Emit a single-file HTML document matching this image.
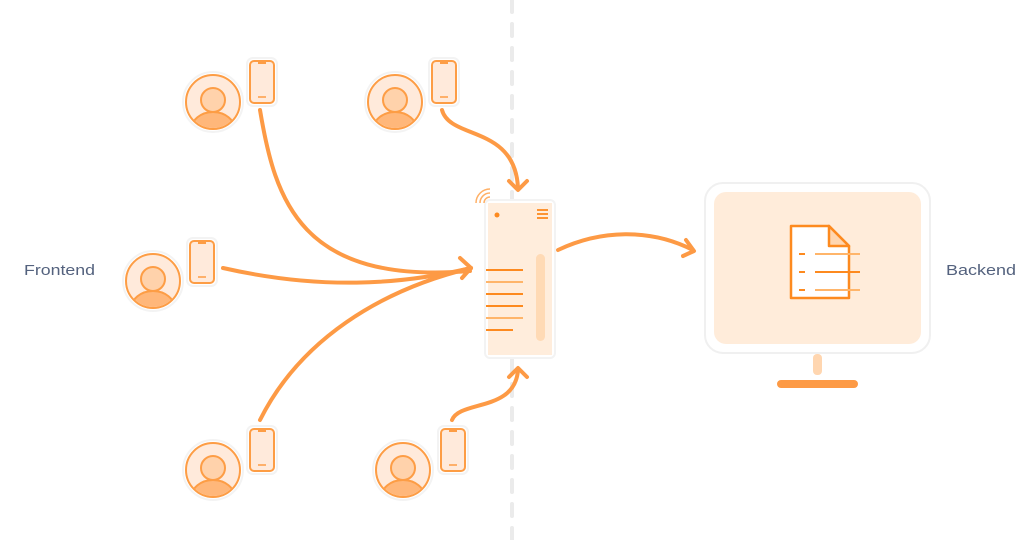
<!DOCTYPE html>
<html><head><style>
html,body{margin:0;padding:0;background:#fff;width:1024px;height:540px;overflow:hidden}
svg{display:block}
text{font-family:"Liberation Sans",sans-serif}
</style></head><body>
<svg width="1024" height="540" viewBox="0 0 1024 540" xmlns="http://www.w3.org/2000/svg">
<defs>
<clipPath id="uc"><circle cx="0" cy="0" r="26"/></clipPath>
<g id="user">
<circle cx="0" cy="0" r="30" fill="#fff" stroke="#f3f3f3" stroke-width="2"/>
<circle cx="0" cy="0" r="27" fill="#ffeadb" stroke="#fd9d45" stroke-width="2"/>
<g clip-path="url(#uc)">
<ellipse cx="0" cy="28" rx="22" ry="18" fill="#ffb77a" stroke="#fd9d45" stroke-width="2"/>
</g>
<circle cx="0" cy="-2" r="12" fill="#ffd2ab" stroke="#fd9d45" stroke-width="2"/>
</g>
<g id="phone">
<rect x="-2" y="-2" width="30" height="48" rx="6" fill="#fff" stroke="#f3f3f3" stroke-width="2"/>
<rect x="1" y="1" width="24" height="42" rx="4" fill="#ffeadb" stroke="#fd9d45" stroke-width="2"/>
<rect x="9" y="1" width="8" height="3" fill="#fd9d45"/>
<line x1="9" y1="37" x2="17" y2="37" stroke="#fd9d45" stroke-width="1.5"/>
</g>
</defs>

<line x1="512" y1="0" x2="512" y2="540" stroke="#ebebeb" stroke-width="4" stroke-dasharray="12 12" stroke-linecap="round"/>

<use href="#user" x="213" y="102"/><use href="#phone" x="249" y="60"/>
<use href="#user" x="395" y="102"/><use href="#phone" x="431" y="60"/>
<use href="#user" x="153" y="281"/><use href="#phone" x="189" y="240"/>
<use href="#user" x="213" y="470"/><use href="#phone" x="249" y="428"/>
<use href="#user" x="403" y="470"/><use href="#phone" x="440" y="428"/>

<g fill="none" stroke="#fd9a45" stroke-width="4" stroke-linecap="round" stroke-linejoin="round">
<path d="M260,110 C275,200 300,285 470,271"/>
<path d="M223,268 C320,290 400,285 471,268"/>
<path d="M260,420 C300,340 380,290 471,268"/>
<path d="M460,258 L471,268 L462,278"/>
<path d="M442,110 C450,140 515,125 518,188"/>
<path d="M509,181 L518,190 L527,181"/>
<path d="M452,420 C460,400 515,412 518,370"/>
<path d="M509,377 L518,368 L527,377"/>
<path d="M558,250 C600,230 650,228 693,250"/>
<path d="M686,240 L694,251 L683,256"/>
</g>

<!-- server device -->
<rect x="485" y="200" width="70" height="158" rx="5" fill="#fff" stroke="#f3f3f3" stroke-width="2"/>
<rect x="488" y="203" width="64" height="152" fill="#ffeddc"/>
<rect x="536" y="254" width="9" height="87" rx="4.5" fill="#ffdab5"/>
<circle cx="497" cy="215" r="2.5" fill="#fd8a1f"/>
<g stroke="#fd8a1f" stroke-width="1.8"><line x1="537" y1="210" x2="548" y2="210"/><line x1="537" y1="214" x2="548" y2="214"/><line x1="537" y1="218" x2="548" y2="218"/></g>
<g stroke-width="2">
<line x1="486" y1="270" x2="523" y2="270" stroke="#fd8a1f"/>
<line x1="486" y1="282" x2="523" y2="282" stroke="#ffb56a"/>
<line x1="486" y1="294" x2="523" y2="294" stroke="#fd8a1f"/>
<line x1="486" y1="306" x2="523" y2="306" stroke="#fd8a1f"/>
<line x1="486" y1="318" x2="523" y2="318" stroke="#ffb56a"/>
<line x1="486" y1="330" x2="513" y2="330" stroke="#fd8a1f"/>
</g>
<g fill="none" stroke="#ffb066" stroke-width="1.5">
<path d="M476,203 A14,14 0 0 1 490,189"/>
<path d="M480,203 A10,10 0 0 1 490,193"/>
<path d="M484,203 A6,6 0 0 1 490,197"/>
</g>

<!-- monitor -->
<rect x="705" y="183" width="225" height="170" rx="18" fill="#fff" stroke="#f0f0f0" stroke-width="2"/>
<rect x="714" y="192" width="207" height="152" rx="12" fill="#ffecda"/>
<rect x="813" y="354" width="9" height="21" rx="4" fill="#ffd6b0"/>
<rect x="777" y="380" width="81" height="8" rx="4" fill="#fd9a45"/>
<path d="M791,226 L829,226 L849,246 L849,298 L791,298 Z" fill="#fff" stroke="#fd8a1f" stroke-width="2.5" stroke-linejoin="round"/>
<path d="M829,226 L829,246 L849,246 Z" fill="#ffd6b0" stroke="#fd8a1f" stroke-width="2.5" stroke-linejoin="round"/>
<g stroke-width="2">
<line x1="799" y1="254" x2="805" y2="254" stroke="#fd8a1f"/>
<line x1="815" y1="254" x2="860" y2="254" stroke="#ffb56a"/>
<line x1="799" y1="272" x2="805" y2="272" stroke="#fd8a1f"/>
<line x1="815" y1="272" x2="860" y2="272" stroke="#fd8a1f"/>
<line x1="799" y1="290" x2="805" y2="290" stroke="#fd8a1f"/>
<line x1="815" y1="290" x2="860" y2="290" stroke="#ffb56a"/>
</g>

<text x="24" y="275" font-size="15" fill="#54627e" textLength="71" lengthAdjust="spacingAndGlyphs">Frontend</text>
<text x="946" y="275" font-size="15" fill="#54627e" textLength="70" lengthAdjust="spacingAndGlyphs">Backend</text>
</svg>
</body></html>
